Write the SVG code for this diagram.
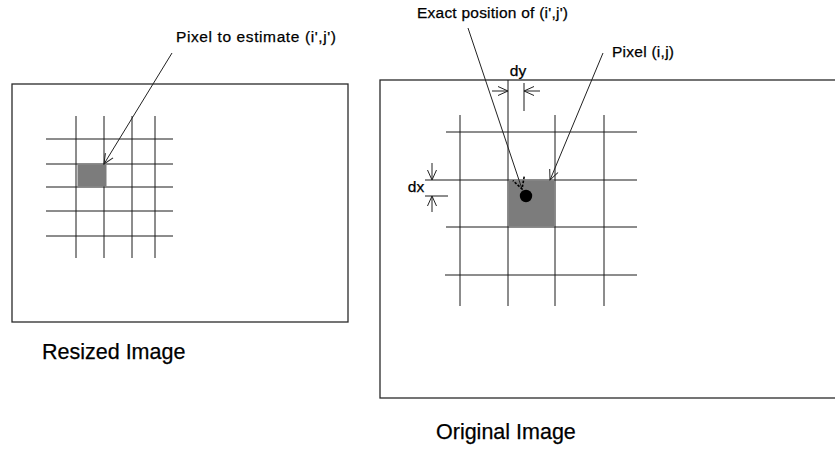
<svg xmlns="http://www.w3.org/2000/svg" width="835" height="454" viewBox="0 0 835 454">
<style>
.ln{stroke:#1a1a1a;stroke-width:1;fill:none}
.frame{stroke:#2a2a2a;stroke-width:1.3;fill:none}
.lbl{font-family:"Liberation Sans",Arial,sans-serif;fill:#000;stroke:#000;stroke-width:0.25}
.sm{font-size:15.5px}
.big{font-size:21.5px}
.shade{fill:#7c7c7c}
.arr{stroke:#222;stroke-width:1;fill:none;marker-end:url(#open)}
</style>
<defs>
<marker id="open" markerUnits="userSpaceOnUse" markerWidth="24" markerHeight="24" refX="12" refY="12" orient="auto" viewBox="0 0 24 24">
<path d="M2,7.5 L12,12 L2,16.5" fill="none" stroke="#222" stroke-width="1"/>
</marker>
<marker id="openDash" markerUnits="userSpaceOnUse" markerWidth="24" markerHeight="24" refX="12" refY="12" orient="auto" viewBox="0 0 24 24">
<path d="M1,6 L12,12 L1,18" fill="none" stroke="#000" stroke-width="1.6" stroke-dasharray="2.5,1.5"/>
</marker>
</defs>
<rect width="835" height="454" fill="#fff"/>

<g id="resized-image">
<rect class="frame" x="12" y="84" width="336" height="238"/>
<g class="ln">
<line x1="46" y1="139" x2="173" y2="139"/>
<line x1="46" y1="164" x2="173" y2="164"/>
<line x1="46" y1="187" x2="173" y2="187"/>
<line x1="46" y1="211" x2="173" y2="211"/>
<line x1="46" y1="236" x2="173" y2="236"/>
<line x1="76" y1="116" x2="76" y2="258"/>
<line x1="104" y1="116" x2="104" y2="258"/>
<line x1="132" y1="116" x2="132" y2="258"/>
<line x1="155" y1="116" x2="155" y2="258"/>
</g>
<rect class="shade" x="77.5" y="164.5" width="29" height="22"/>
<text class="lbl big" x="42" y="359">Resized Image</text>
</g>

<g id="original-image">
<rect class="frame" x="380" y="80" width="470" height="318"/>
<g class="ln">
<line x1="446" y1="132" x2="637" y2="132"/>
<line x1="425" y1="180" x2="637" y2="180"/>
<line x1="446" y1="227" x2="637" y2="227"/>
<line x1="445" y1="275" x2="637" y2="275"/>
<line x1="460" y1="115" x2="460" y2="306"/>
<line x1="508" y1="80" x2="508" y2="306"/>
<line x1="555" y1="115" x2="555" y2="306"/>
<line x1="604" y1="115" x2="604" y2="306"/>
</g>
<rect class="shade" x="508.5" y="180.5" width="46" height="46"/>
<circle cx="526" cy="196" r="6.2" fill="#000"/>
<text class="lbl big" x="436" y="439">Original Image</text>
</g>

<g id="dimension-dy">
<line class="ln" x1="524" y1="83" x2="524" y2="111"/>
<line class="arr" x1="492" y1="91" x2="508" y2="91"/>
<line class="arr" x1="540" y1="91" x2="524" y2="91"/>
<text class="lbl sm" x="518" y="76" text-anchor="middle">dy</text>
</g>

<g id="dimension-dx">
<line class="ln" x1="425" y1="196" x2="448" y2="196"/>
<line class="arr" x1="432" y1="163" x2="432" y2="180"/>
<line class="arr" x1="432" y1="212" x2="432" y2="196"/>
<text class="lbl sm" x="416" y="192" text-anchor="middle">dx</text>
</g>

<g id="label-pixel-to-estimate">
<text class="lbl sm" x="176" y="42" textLength="160">Pixel to estimate (i',j')</text>
</g>
<g id="label-exact-position">
<text class="lbl sm" x="417" y="18" textLength="151">Exact position of (i',j')</text>
</g>
<g id="label-pixel-ij">
<text class="lbl sm" x="612" y="57" textLength="62">Pixel (i,j)</text>
</g>

<g id="connectors">
<line class="arr" x1="172" y1="53" x2="104" y2="164"/>
<line x1="468" y1="28" x2="522" y2="189" stroke="#222" stroke-width="1" marker-end="url(#openDash)"/>
<line class="arr" x1="603" y1="53" x2="550" y2="180"/>
</g>
</svg>
